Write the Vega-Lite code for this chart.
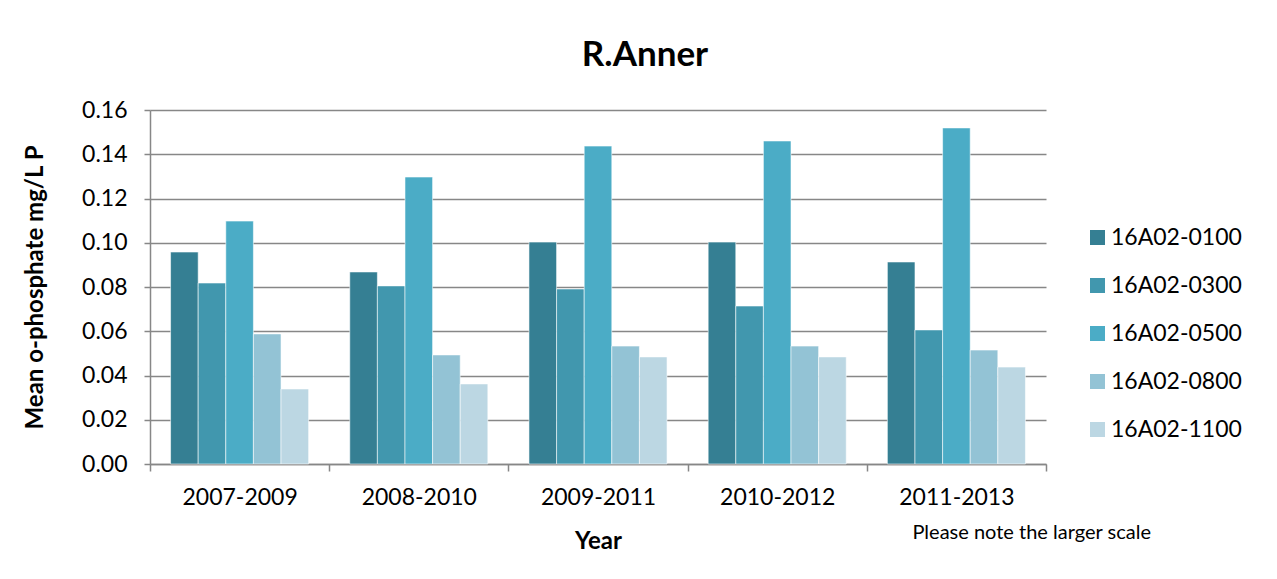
{
  "$schema": "https://vega.github.io/schema/vega-lite/v6.json",
  "width": 896,
  "height": 354,
  "padding": {"left": 23, "top": 38, "right": 5, "bottom": 5},
  "background": "white",
  "config": {
    "font": "Lato",
    "view": {"stroke": null},
    "axis": {"labelFont": "Lato", "titleFont": "Lato", "labelColor": "#000", "titleColor": "#000"}
  },
  "title": {
    "text": "R.Anner",
    "fontSize": 35,
    "fontWeight": "bold",
    "font": "Lato",
    "color": "#000",
    "anchor": "middle",
    "offset": 26,
    "dx": 47
  },
  "data": {
    "values": [
      {"Year": "2007-2009", "Station": "16A02-0100", "Value": 0.0958},
      {"Year": "2007-2009", "Station": "16A02-0300", "Value": 0.0818},
      {"Year": "2007-2009", "Station": "16A02-0500", "Value": 0.1098},
      {"Year": "2007-2009", "Station": "16A02-0800", "Value": 0.0588},
      {"Year": "2007-2009", "Station": "16A02-1100", "Value": 0.0339},
      {"Year": "2008-2010", "Station": "16A02-0100", "Value": 0.0868},
      {"Year": "2008-2010", "Station": "16A02-0300", "Value": 0.0805},
      {"Year": "2008-2010", "Station": "16A02-0500", "Value": 0.1297},
      {"Year": "2008-2010", "Station": "16A02-0800", "Value": 0.0493},
      {"Year": "2008-2010", "Station": "16A02-1100", "Value": 0.0362},
      {"Year": "2009-2011", "Station": "16A02-0100", "Value": 0.1003},
      {"Year": "2009-2011", "Station": "16A02-0300", "Value": 0.0791},
      {"Year": "2009-2011", "Station": "16A02-0500", "Value": 0.1437},
      {"Year": "2009-2011", "Station": "16A02-0800", "Value": 0.0533},
      {"Year": "2009-2011", "Station": "16A02-1100", "Value": 0.0484},
      {"Year": "2010-2012", "Station": "16A02-0100", "Value": 0.1003},
      {"Year": "2010-2012", "Station": "16A02-0300", "Value": 0.0714},
      {"Year": "2010-2012", "Station": "16A02-0500", "Value": 0.1460},
      {"Year": "2010-2012", "Station": "16A02-0800", "Value": 0.0533},
      {"Year": "2010-2012", "Station": "16A02-1100", "Value": 0.0484},
      {"Year": "2011-2013", "Station": "16A02-0100", "Value": 0.0913},
      {"Year": "2011-2013", "Station": "16A02-0300", "Value": 0.0606},
      {"Year": "2011-2013", "Station": "16A02-0500", "Value": 0.1519},
      {"Year": "2011-2013", "Station": "16A02-0800", "Value": 0.0515},
      {"Year": "2011-2013", "Station": "16A02-1100", "Value": 0.0438}
    ]
  },
  "layer": [
    {
      "mark": {"type": "bar", "stroke": "white", "strokeWidth": 0.8, "strokeOpacity": 0.7},
      "encoding": {
        "x": {
          "field": "Year",
          "type": "nominal",
          "scale": {"paddingInner": 0, "paddingOuter": 0},
          "axis": {
            "title": "Year",
            "titleFontSize": 24,
            "titleFontWeight": "bold",
            "titlePadding": 20,
            "labelAngle": 0,
            "labelFontSize": 23,
            "labelPadding": 15,
            "tickBand": "extent",
            "tickSize": 7,
            "tickColor": "#878787",
            "tickWidth": 1.5,
            "domainColor": "#878787",
            "domainWidth": 1.5,
            "grid": false
          }
        },
        "xOffset": {
          "field": "Station",
          "type": "nominal",
          "scale": {"paddingInner": 0, "paddingOuter": 0.745}
        },
        "y": {
          "field": "Value",
          "type": "quantitative",
          "scale": {"domain": [0, 0.16]},
          "axis": {
            "title": "Mean o-phosphate mg/L P",
            "titleFontSize": 24,
            "titleFontWeight": "bold",
            "titlePadding": 34,
            "values": [0, 0.02, 0.04, 0.06, 0.08, 0.1, 0.12, 0.14, 0.16],
            "format": ".2f",
            "labelFontSize": 23,
            "labelPadding": 17,
            "tickSize": 6,
            "tickColor": "#878787",
            "tickWidth": 1.5,
            "domainColor": "#878787",
            "domainWidth": 1.5,
            "gridColor": "#878787",
            "gridWidth": 1.5
          }
        },
        "color": {
          "field": "Station",
          "type": "nominal",
          "scale": {
            "domain": ["16A02-0100", "16A02-0300", "16A02-0500", "16A02-0800", "16A02-1100"],
            "range": ["#357F93", "#4197AE", "#4BACC6", "#93C3D5", "#BCD7E3"]
          },
          "legend": {
            "title": null,
            "orient": "none",
            "legendX": 936,
            "legendY": 116,
            "labelFontSize": 23,
            "labelFont": "Lato",
            "labelColor": "#000",
            "symbolType": "square",
            "symbolSize": 225,
            "symbolStrokeWidth": 0,
            "rowPadding": 24,
            "labelOffset": 2
          }
        }
      }
    },
    {
      "data": {"values": [{"Year": "2011-2013", "Pos": -0.031, "Note": "Please note  the larger scale"}]},
      "mark": {"type": "text", "fontSize": 20, "font": "Lato", "fill": "#000", "align": "left", "dx": -44, "clip": false},
      "encoding": {
        "x": {"field": "Year", "type": "nominal"},
        "y": {"field": "Pos", "type": "quantitative"},
        "text": {"field": "Note", "type": "nominal"}
      }
    }
  ]
}
